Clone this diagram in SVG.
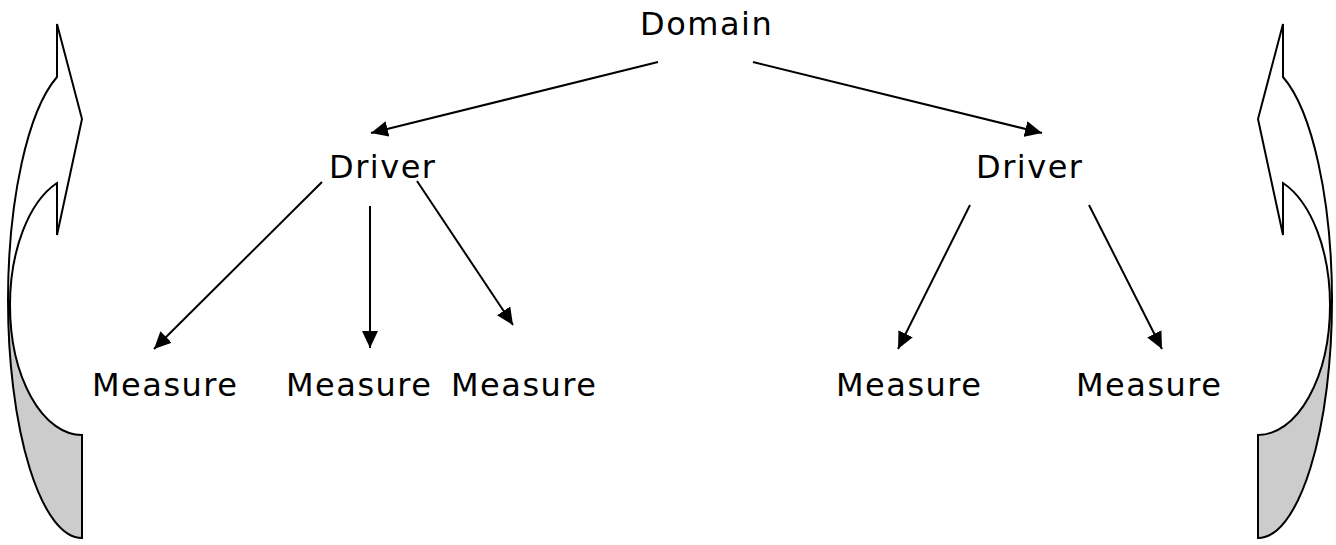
<svg xmlns="http://www.w3.org/2000/svg" width="1336" height="545" viewBox="0 0 1336 545">
  <style>
    .label { font-family: "DejaVu Sans", Verdana, sans-serif; font-size: 32px; letter-spacing: 1.5px; fill: #000; }
    .conn { stroke: #000; stroke-width: 2; fill: none; marker-end: url(#head); }
    .shape { stroke: #000; stroke-width: 2; stroke-linejoin: miter; }
  </style>
  <defs>
    <marker id="head" markerUnits="userSpaceOnUse" markerWidth="18" markerHeight="16" refX="17" refY="8" orient="auto">
      <path d="M0,0 L17,8 L0,16 Z" fill="#000"/>
    </marker>
    <!-- curved arrow turning up and to the right: shaded back, white front -->
    <g id="curved-arrow">
      <path class="shape" fill="#cccccc" d="M8,300 A74,238 0 0 0 82,538 L82,435 A72,130 0 0 1 10,305 Z"/>
      <path class="shape" fill="#ffffff" d="M57,77 A74,238 0 0 0 8,300 L10,305 A72,130 0 0 1 57,183 L57,235 L82,119 L57,24 Z"/>
    </g>
  </defs>
  <rect width="1336" height="545" fill="#ffffff"/>

  <g id="cycle-left">
    <use href="#curved-arrow"/>
  </g>
  <g id="cycle-right">
    <use href="#curved-arrow" transform="translate(1340,0) scale(-1,1)"/>
  </g>

  <g id="connectors">
    <line class="conn" x1="658" y1="62" x2="371" y2="133"/>
    <line class="conn" x1="753" y1="62" x2="1042" y2="133"/>
    <line class="conn" x1="322" y1="182" x2="154" y2="349"/>
    <line class="conn" x1="370" y1="206" x2="370" y2="348"/>
    <line class="conn" x1="417" y1="181" x2="513" y2="325"/>
    <line class="conn" x1="970" y1="205" x2="898" y2="349"/>
    <line class="conn" x1="1089" y1="205" x2="1162" y2="349"/>
  </g>

  <g id="domain"><text class="label" x="640" y="35">Domain</text></g>
  <g id="driver-left"><text class="label" x="329" y="178">Driver</text></g>
  <g id="driver-right"><text class="label" x="976" y="178">Driver</text></g>
  <g id="measure-1"><text class="label" x="92" y="396">Measure</text></g>
  <g id="measure-2"><text class="label" x="286" y="396">Measure</text></g>
  <g id="measure-3"><text class="label" x="451" y="396">Measure</text></g>
  <g id="measure-4"><text class="label" x="836" y="396">Measure</text></g>
  <g id="measure-5"><text class="label" x="1076" y="396">Measure</text></g>
</svg>
